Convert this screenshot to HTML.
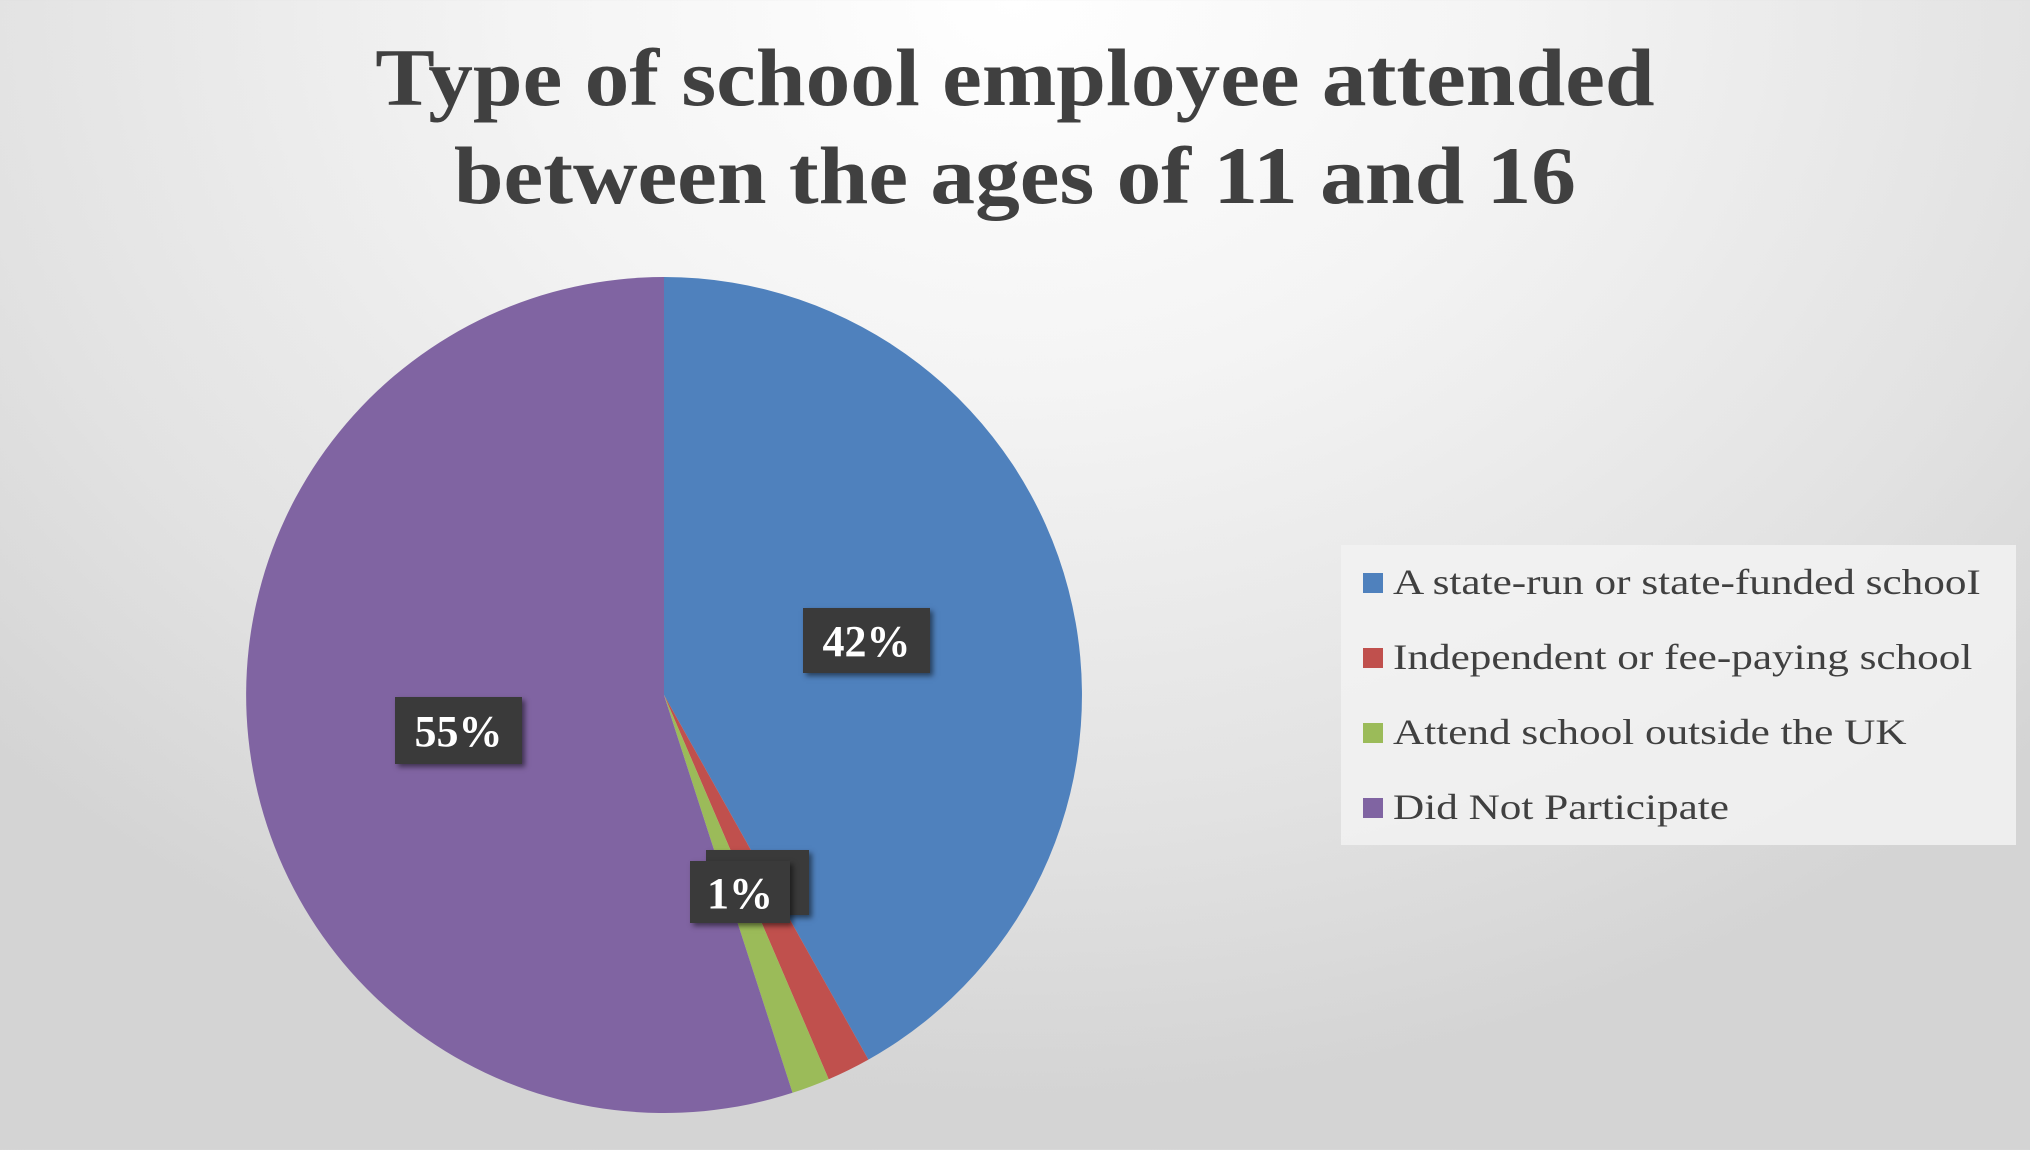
<!DOCTYPE html>
<html><head><meta charset="utf-8"><style>
html,body{margin:0;padding:0;}
body{width:2030px;height:1150px;overflow:hidden;background:radial-gradient(ellipse 1400px 1100px at 1015px 0px,#ffffff 0%,#f4f4f4 35%,#e2e2e2 75%,#d4d4d4 100%);font-family:"Liberation Serif",serif;position:relative;}
.title{position:absolute;left:0;width:2030px;top:29px;text-align:center;font-weight:bold;font-size:82px;line-height:98px;color:#404040;transform:scaleX(1.09);transform-origin:1016px 0;}
.legend{position:absolute;left:1341px;top:545px;width:675px;height:300px;background:rgba(242,242,242,0.85);}
.li{position:absolute;left:22px;font-size:36px;color:#404040;white-space:nowrap;}
.li span.t{display:inline-block;transform:scaleX(1.2);transform-origin:0 0;}
.sq{display:inline-block;width:20px;height:20px;margin-right:10px;vertical-align:1px;}
.lab{position:absolute;background:#3a3a3a;color:#fff;font-weight:bold;font-size:44px;text-align:center;box-shadow:3px 3px 5px rgba(0,0,0,0.5);font-family:"Liberation Serif",serif;}
</style></head><body>
<div class="title">Type of school employee attended<br>between the ages of 11 and 16</div>
<svg width="2030" height="1150" style="position:absolute;left:0;top:0">
<g transform="translate(664,695)">
<path d="M0,0 L0,-418 A418,418 0 0,1 204.4,364.6 Z" fill="#4f81bd"/>
<path d="M0,0 L204.4,364.6 A418,418 0 0,1 164.7,384.2 Z" fill="#c0504d"/>
<path d="M0,0 L164.7,384.2 A418,418 0 0,1 128.5,397.8 Z" fill="#9bbb59"/>
<path d="M0,0 L128.5,397.8 A418,418 0 1,1 0,-418 Z" fill="#8064a2"/>
</g></svg>
<div class="lab" style="left:803px;top:608px;width:127px;height:65px;line-height:68px;">42%</div>
<div class="lab" style="left:395px;top:697px;width:127px;height:67px;line-height:70px;">55%</div>
<div class="lab" style="left:706px;top:850px;width:103px;height:65px;line-height:68px;">2%</div>
<div class="lab" style="left:690px;top:861px;width:100px;height:62px;line-height:66px;">1%</div>
<div class="legend">
<div class="li" style="top:16px"><span class="sq" style="background:#4f81bd"></span><span class="t">A state-run or state-funded schooI</span></div>
<div class="li" style="top:91px"><span class="sq" style="background:#c0504d"></span><span class="t">Independent or fee-paying school</span></div>
<div class="li" style="top:166px"><span class="sq" style="background:#9bbb59"></span><span class="t">Attend school outside the UK</span></div>
<div class="li" style="top:241px"><span class="sq" style="background:#8064a2"></span><span class="t">Did Not Participate</span></div>
</div>
</body></html>
